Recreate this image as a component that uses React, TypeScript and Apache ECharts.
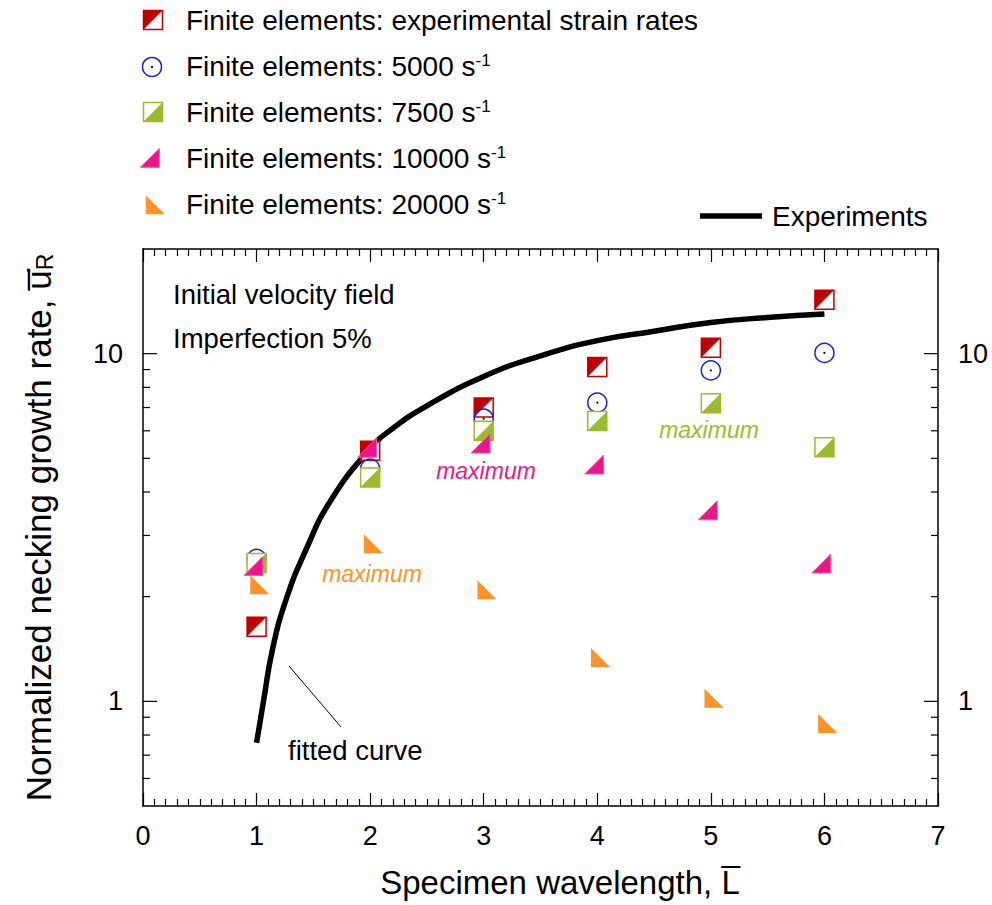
import React, { useEffect, useRef } from 'react';
import * as echarts from 'echarts';

const FONT = "'Liberation Sans', Arial, Helvetica, sans-serif";

// ---- data ----
const xValues = [1, 2, 3, 4, 5, 6];
const feExperimental = [1.64, 5.26, 7.0, 9.15, 10.4, 14.3];
const fe5000 = [2.57, 4.67, 6.5, 7.23, 8.95, 10.05];
const fe7500 = [2.5, 4.4, 6.0, 6.4, 7.2, 5.38];
const fe10000 = [2.4, 5.25, 5.4, 4.7, 3.47, 2.44];
const fe20000 = [2.12, 2.78, 2.05, 1.31, 1.0, 0.845];

const experimentsX = [1.0, 1.063, 1.138, 1.257, 1.433, 1.653, 2.0, 2.2, 2.5, 3.0, 3.5, 4.0, 4.5, 5.0, 5.5, 6.0];
const experimentsY = [0.76, 1.01, 1.4, 1.95, 2.72, 3.78, 5.33, 6.1, 7.08, 8.6, 9.86, 10.9, 11.6, 12.3, 12.7, 13.0];

const xTickLabels = ['0', '1', '2', '3', '4', '5', '6', '7'];
const yLabelValues = [1, 10];
const yMajorTicks = [1, 10];
const yMinorTicks = [0.6, 0.7, 0.8, 0.9, 2, 3, 4, 5, 6, 7, 8, 9];

const seriesNames = [
  'Finite elements: experimental strain rates',
  'Finite elements: 5000 s',
  'Finite elements: 7500 s',
  'Finite elements: 10000 s',
  'Finite elements: 20000 s',
];
const superscripts = ['', '-1', '-1', '-1', '-1'];

const RED = '#c00000';
const BLUE = '#2020d0';
const GREEN = '#9cbb2c';
const PINK = '#f0148c';
const ORANGE = '#ff9327';

const S = 9.5;
const T = 19;

type Draw = (cx: number, cy: number) => any[];

const drawRed: Draw = (cx, cy) => [
  { type: 'rect', shape: { x: cx - S, y: cy - S, width: 2 * S, height: 2 * S }, style: { fill: '#fff', stroke: RED, lineWidth: 1.5 } },
  { type: 'polygon', shape: { points: [[cx - S, cy - S], [cx + S, cy - S], [cx - S, cy + S]] }, style: { fill: RED } },
];
const drawBlue: Draw = (cx, cy) => [
  { type: 'circle', shape: { cx, cy, r: S }, style: { fill: 'rgba(255,255,255,0)', stroke: BLUE, lineWidth: 1.5 } },
  { type: 'circle', shape: { cx, cy, r: 1.1 }, style: { fill: '#000' } },
];
const drawGreen: Draw = (cx, cy) => [
  { type: 'rect', shape: { x: cx - S, y: cy - S, width: 2 * S, height: 2 * S }, style: { fill: '#fff', stroke: GREEN, lineWidth: 1.5 } },
  { type: 'polygon', shape: { points: [[cx + S, cy - S], [cx + S, cy + S], [cx - S, cy + S]] }, style: { fill: GREEN } },
];
// triangles are positioned by their centroid
const drawPink: Draw = (cx, cy) => [
  { type: 'polygon', shape: { points: [[cx - (2 * T) / 3, cy + T / 3], [cx + T / 3, cy + T / 3], [cx + T / 3, cy - (2 * T) / 3]] }, style: { fill: PINK, stroke: '#f45aa8', lineWidth: 1 } },
];
const drawOrange: Draw = (cx, cy) => [
  { type: 'polygon', shape: { points: [[cx - T / 3, cy - (2 * T) / 3], [cx - T / 3, cy + T / 3], [cx + (2 * T) / 3, cy + T / 3]] }, style: { fill: ORANGE } },
];

const seriesValues = [feExperimental, fe5000, fe7500, fe10000, fe20000];
const drawers = [drawRed, drawBlue, drawGreen, drawPink, drawOrange];
const legendRowsY = [20, 66, 112, 158, 204];
const legendGlyphPos = [[153, 20], [152, 67], [153, 112], [153, 161], [152, 208]];

const App: React.FC = () => {
  const ref = useRef<HTMLDivElement>(null);

  useEffect(() => {
    document.body.style.margin = '0';
    if (!ref.current) return;
    const chart = echarts.init(ref.current, undefined, { renderer: 'svg' });

    const markerSeries = seriesValues.map((vals, k) => ({
      type: 'custom',
      name: seriesNames[k],
      xAxisIndex: 0,
      yAxisIndex: 0,
      clip: false,
      data: xValues.map((x, i) => [x, vals[i]]),
      renderItem: (_p: any, api: any) => {
        const pt = api.coord([api.value(0), api.value(1)]);
        return { type: 'group', children: drawers[k](pt[0], pt[1]) };
      },
      z: 5 + k,
    }));

    const tickSeries = (vals: number[], len: number) => ({
      type: 'custom',
      xAxisIndex: 0,
      yAxisIndex: 0,
      silent: true,
      clip: false,
      data: vals.map((v) => [0, v]),
      renderItem: (_p: any, api: any) => {
        const v = api.value(1);
        const l = api.coord([0, v]);
        const r = api.coord([7, v]);
        return {
          type: 'group',
          children: [
            { type: 'line', shape: { x1: l[0], y1: l[1], x2: l[0] + len, y2: l[1] }, style: { stroke: '#000', lineWidth: 1.2 } },
            { type: 'line', shape: { x1: r[0], y1: r[1], x2: r[0] - len, y2: r[1] }, style: { stroke: '#000', lineWidth: 1.2 } },
          ],
        };
      },
      z: 3,
    });

    const yLabelFormatter = (v: number) => {
      for (const t of yLabelValues) if (Math.abs(v - t) < 1e-6 * t) return String(t);
      return '';
    };

    const xAxisBase = {
      type: 'value',
      min: 0,
      max: 7,
      interval: 1,
      axisLine: { show: true, onZero: false, lineStyle: { color: '#000', width: 1.5 } },
      axisTick: { show: true, inside: true, length: 13, lineStyle: { color: '#000', width: 1.2 } },
      minorTick: { show: true, splitNumber: 10, length: 7, lineStyle: { color: '#000', width: 1.2 } },
      splitLine: { show: false },
      minorSplitLine: { show: false },
    };

    const yAxisBase = {
      type: 'log',
      logBase: 10,
      min: 0.5,
      max: 20,
      axisLine: { show: true, onZero: false, lineStyle: { color: '#000', width: 1.5 } },
      axisTick: { show: false },
      splitLine: { show: false },
      axisLabel: { show: true, margin: 20, color: '#000', fontSize: 27, fontFamily: FONT, formatter: yLabelFormatter },
    };

    const legendGraphics: any[] = [];
    for (let k = 0; k < 5; k++) {
      legendGraphics.push({ type: 'group', children: drawers[k](legendGlyphPos[k][0], legendGlyphPos[k][1]) });
      legendGraphics.push({
        type: 'text',
        x: 186,
        y: legendRowsY[k],
        style: {
          text: seriesNames[k] + (superscripts[k] ? `{sup|${superscripts[k]}}` : ''),
          font: `28px ${FONT}`,
          fill: '#000',
          textVerticalAlign: 'middle',
          rich: { sup: { fontSize: 17, fontFamily: FONT, fill: '#000', verticalAlign: 'top' } },
        },
      });
    }

    const option: any = {
      animation: false,
      backgroundColor: '#fff',
      grid: { left: 143, right: 54, top: 249, bottom: 99, containLabel: false },
      xAxis: [
        {
          ...xAxisBase,
          position: 'bottom',
          axisLabel: { show: true, margin: 16, color: '#000', fontSize: 27, fontFamily: FONT, formatter: (v: number) => xTickLabels[Math.round(v)] ?? '' },
        },
        { ...xAxisBase, position: 'top', axisLabel: { show: false } },
      ],
      yAxis: [
        {
          ...yAxisBase,
          position: 'left',
          name: 'Normalized necking growth rate, {u|u\u0305\u0307}{sub|R}',
          nameLocation: 'middle',
          nameGap: 87,
          nameTextStyle: {
            color: '#000',
            fontSize: 35,
            fontFamily: FONT,
            rich: {
              u: { fontSize: 35, fontFamily: FONT, color: '#000' },
              sub: { fontSize: 23, fontFamily: FONT, color: '#000', verticalAlign: 'bottom' },
            },
          },
        },
        { ...yAxisBase, position: 'right' },
      ],
      graphic: [
        ...legendGraphics,
        { type: 'line', shape: { x1: 700, y1: 216, x2: 762, y2: 216 }, style: { stroke: '#000', lineWidth: 5.5 } },
        { type: 'text', x: 772, y: 216, style: { text: 'Experiments', font: `28px ${FONT}`, fill: '#000', textVerticalAlign: 'middle' } },
        { type: 'text', x: 173, y: 294, style: { text: 'Initial velocity field', font: `27.5px ${FONT}`, fill: '#000', textVerticalAlign: 'middle' } },
        { type: 'text', x: 173, y: 338, style: { text: 'Imperfection 5%', font: `27.5px ${FONT}`, fill: '#000', textVerticalAlign: 'middle' } },
        { type: 'text', x: 486, y: 471, style: { text: 'maximum', font: `italic 23px ${FONT}`, fill: PINK, textAlign: 'center', textVerticalAlign: 'middle' } },
        { type: 'text', x: 709, y: 430, style: { text: 'maximum', font: `italic 23px ${FONT}`, fill: GREEN, textAlign: 'center', textVerticalAlign: 'middle' } },
        { type: 'text', x: 372, y: 574, style: { text: 'maximum', font: `italic 23px ${FONT}`, fill: ORANGE, textAlign: 'center', textVerticalAlign: 'middle' } },
        { type: 'line', shape: { x1: 289, y1: 666, x2: 341, y2: 727 }, style: { stroke: '#000', lineWidth: 1 } },
        { type: 'text', x: 288, y: 750, style: { text: 'fitted curve', font: `27.5px ${FONT}`, fill: '#000', textVerticalAlign: 'middle' } },
        { type: 'text', x: 560, y: 882, style: { text: 'Specimen wavelength, L\u0305', font: `33px ${FONT}`, fill: '#000', textAlign: 'center', textVerticalAlign: 'middle' } },
      ],
      series: [
        {
          type: 'line',
          name: 'Experiments',
          xAxisIndex: 0,
          yAxisIndex: 0,
          data: experimentsX.map((x, i) => [x, experimentsY[i]]),
          showSymbol: false,
          symbol: 'none',
          smooth: 0.5,
          lineStyle: { color: '#000', width: 5.5, cap: 'butt', join: 'round' },
          z: 2,
        },
        tickSeries(yMinorTicks, 7),
        tickSeries(yMajorTicks, 14),
        ...markerSeries,
      ],
    };

    chart.setOption(option);
    return () => chart.dispose();
  }, []);

  return <div ref={ref} style={{ width: 992, height: 905 }} />;
};

export default App;
